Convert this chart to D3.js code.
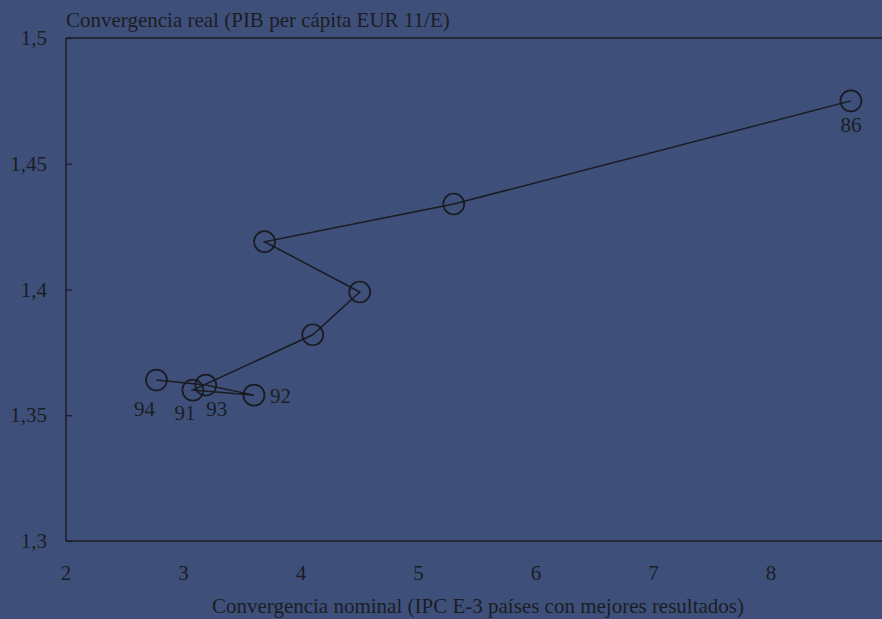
<!DOCTYPE html>
<html>
<head>
<meta charset="utf-8">
<script src="https://cdn.jsdelivr.net/npm/d3@7"></script>
<style>
  html, body { margin: 0; padding: 0; background: #3e5079; }
  svg { display: block; }
  text { font-family: "Liberation Serif", "DejaVu Serif", serif; fill: #1b1d24; }
</style>
</head>
<body>
<svg id="chart" width="882" height="619"></svg>
<script>
// Years plotted along the path, in order
const years = ["86", "87", "88", "89", "90", "91", "92", "93", "94"];
// Nominal convergence: IPC gap vs. the 3 best EU countries
const nominal = [8.68, 5.30, 3.69, 4.50, 4.10, 3.08, 3.60, 3.19, 2.77];
// Real convergence: GDP per capita ratio EUR 11 / Spain
const real = [1.475, 1.434, 1.419, 1.399, 1.382, 1.360, 1.358, 1.362, 1.364];
// Years that carry a label
const labelled = ["86", "91", "92", "93", "94"];
const xTicks = [2, 3, 4, 5, 6, 7, 8];
const yTicks = [1.3, 1.35, 1.4, 1.45, 1.5];

const svg = d3.select("#chart");
const W = 882, H = 619;
const m = { left: 66, top: 38, bottom: 78 };

svg.append("rect").attr("width", W).attr("height", H).attr("fill", "#3e5079");

const x = d3.scaleLinear().domain([2, 9]).range([m.left, m.left + 7 * 117.5]);
const y = d3.scaleLinear().domain([1.3, 1.5]).range([H - m.bottom, m.top]);

const fmt = d => String(d).replace(".", ",");

// Frame: left, bottom and top lines
const frame = svg.append("g").attr("stroke", "#1b1d26").attr("stroke-width", 1.5).attr("fill", "none");
frame.append("line").attr("x1", x(2)).attr("x2", x(2)).attr("y1", y(1.3)).attr("y2", y(1.5));
frame.append("line").attr("x1", x(2)).attr("x2", W).attr("y1", y(1.3)).attr("y2", y(1.3));
frame.append("line").attr("x1", x(2)).attr("x2", W).attr("y1", y(1.5)).attr("y2", y(1.5));

// Y axis (ticks point inward)
const yAxis = svg.append("g")
  .attr("transform", `translate(${x(2)},0)`)
  .call(d3.axisRight(y).tickValues(yTicks).tickSize(6).tickFormat(""));
yAxis.select(".domain").remove();
yAxis.selectAll("line").attr("stroke", "#1b1d26").attr("stroke-width", 1.2);
svg.append("g").selectAll("text").data(yTicks).join("text")
  .attr("x", 47).attr("y", d => y(d) + 7)
  .attr("text-anchor", "end").attr("font-size", 21)
  .text(fmt);

// X axis labels
const xAxis = svg.append("g")
  .attr("transform", `translate(0,${y(1.3)})`)
  .call(d3.axisTop(x).tickValues(xTicks).tickSize(0).tickFormat(""));
xAxis.select(".domain").remove();
svg.append("g").selectAll("text").data(xTicks).join("text")
  .attr("x", d => x(d)).attr("y", y(1.3) + 39)
  .attr("text-anchor", "middle").attr("font-size", 21)
  .text(fmt);

// Axis titles
svg.append("text").attr("x", 66).attr("y", 27).attr("font-size", 21)
  .text("Convergencia real (PIB per cápita EUR 11/E)");
svg.append("text").attr("x", 478).attr("y", 613).attr("text-anchor", "middle").attr("font-size", 21)
  .text("Convergencia nominal (IPC E-3 países con mejores resultados)");

// Path through the years
const pts = years.map((yr, i) => ({ yr, nx: nominal[i], ry: real[i] }));
svg.append("path")
  .datum(pts)
  .attr("fill", "none").attr("stroke", "#1a1b22").attr("stroke-width", 1.5)
  .attr("d", d3.line().x(d => x(d.nx)).y(d => y(d.ry)));

svg.append("g").selectAll("circle").data(pts).join("circle")
  .attr("cx", d => x(d.nx)).attr("cy", d => y(d.ry)).attr("r", 10.5)
  .attr("fill", "none").attr("stroke", "#1a1b22").attr("stroke-width", 1.7);

// Year labels
const offsets = { "86": [0, 31, "middle"], "91": [-8, 30, "middle"], "92": [16, 8, "start"],
                  "93": [11, 31, "middle"], "94": [-12, 36, "middle"] };
svg.append("g").selectAll("text").data(pts.filter(d => labelled.includes(d.yr))).join("text")
  .attr("x", d => x(d.nx) + offsets[d.yr][0])
  .attr("y", d => y(d.ry) + offsets[d.yr][1])
  .attr("text-anchor", d => offsets[d.yr][2])
  .attr("font-size", 21)
  .text(d => d.yr);
</script>
</body>
</html>
